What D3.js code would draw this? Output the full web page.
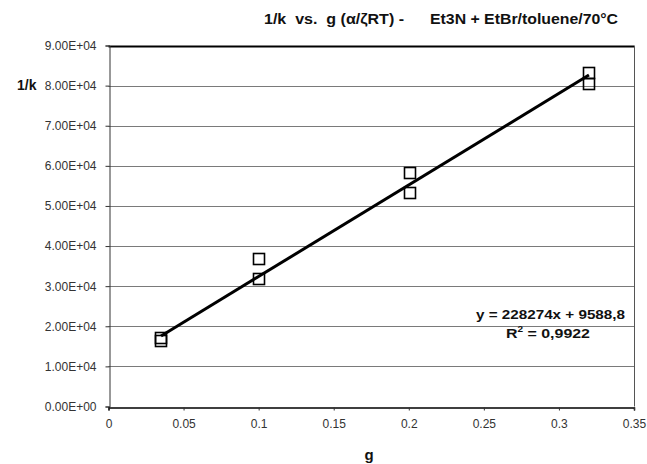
<!DOCTYPE html>
<html>
<head>
<meta charset="utf-8">
<script src="https://cdn.jsdelivr.net/npm/d3@7"></script>
<style>
  body { margin: 0; background: #fff; }
  text { font-family: "Liberation Sans", Arial, sans-serif; }
</style>
</head>
<body>
<script>
const width = 647;
const height = 464;

// data
const gValues = [0.035, 0.035, 0.1, 0.1, 0.201, 0.201, 0.32, 0.32];
const invK = [16300, 17100, 36800, 31700, 58300, 53300, 83200, 80500];
const slope = 228274;
const intercept = 9588.8;
const xTicks = [0, 0.05, 0.1, 0.15, 0.2, 0.25, 0.3, 0.35];
const yTicks = [0, 10000, 20000, 30000, 40000, 50000, 60000, 70000, 80000, 90000];

const margin = { top: 45.5, right: 13, bottom: 58, left: 108.5 };

const svg = d3.select("body")
    .append("svg")
    .attr("width", width)
    .attr("height", height);

const x = d3.scaleLinear().domain([0, 0.35]).range([margin.left, width - margin.right]);
const y = d3.scaleLinear().domain([0, 90000]).range([height - margin.bottom + 0.5, margin.top]);

// grid lines
svg.append("g")
    .selectAll("line")
    .data(yTicks.slice(1))
    .enter()
    .append("line")
    .attr("x1", x(0))
    .attr("x2", x(0.35))
    .attr("y1", d => Math.round(y(d)) + 0.5)
    .attr("y2", d => Math.round(y(d)) + 0.5)
    .attr("stroke", d => d === 90000 ? "#000" : "#7a7a7a")
    .attr("stroke-width", d => d === 90000 ? 2 : 1);

// right border
svg.append("line")
    .attr("x1", Math.round(x(0.35)) + 0.5)
    .attr("x2", Math.round(x(0.35)) + 0.5)
    .attr("y1", y(90000))
    .attr("y2", y(0))
    .attr("stroke", "#555")
    .attr("stroke-width", 1);

// y axis
const yAxis = d3.axisLeft(y)
    .tickValues(yTicks)
    .tickSize(4)
    .tickPadding(9)
    .tickFormat(d => d3.format(".2e")(d).replace("e+", "E+0").toUpperCase());

svg.append("g")
    .attr("transform", `translate(${Math.round(x(0)) + 0.5},0)`)
    .call(yAxis)
    .call(g => g.selectAll("text").attr("font-size", 12).attr("fill", "#333")
        .attr("font-family", "'Liberation Sans', Arial, sans-serif"))
    .call(g => g.select(".domain").attr("stroke", "#333"))
    .call(g => g.selectAll(".tick line").attr("stroke", "#333"));

// x axis
const xAxis = d3.axisBottom(x)
    .tickValues(xTicks)
    .tickSize(3)
    .tickPadding(9)
    .tickFormat(d => d === 0 ? "0" : String(d));

svg.append("g")
    .attr("transform", `translate(0,${Math.round(y(0)) + 0.5})`)
    .call(xAxis)
    .call(g => g.selectAll("text").attr("font-size", 12).attr("fill", "#333")
        .attr("font-family", "'Liberation Sans', Arial, sans-serif"))
    .call(g => g.select(".domain").attr("stroke", "#000").attr("stroke-width", 1.5))
    .call(g => g.selectAll(".tick line").attr("stroke", "#333"));

// trend line
const xMin = d3.min(gValues), xMax = d3.max(gValues);
svg.append("line")
    .attr("x1", x(xMin))
    .attr("y1", y(slope * xMin + intercept))
    .attr("x2", x(xMax))
    .attr("y2", y(slope * xMax + intercept))
    .attr("stroke", "#000")
    .attr("stroke-width", 3);

// points
const pts = gValues.map((g, i) => ({ g: g, v: invK[i] }));
svg.append("g")
    .selectAll("rect")
    .data(pts)
    .enter()
    .append("rect")
    .attr("x", d => Math.round(x(d.g)) - 5.5)
    .attr("y", d => Math.round(y(d.v)) - 5.5)
    .attr("width", 11)
    .attr("height", 11)
    .attr("fill", "none")
    .attr("stroke", "#000")
    .attr("stroke-width", 1.6);

// title (two parts, as in the original)
svg.append("text")
    .attr("x", 264)
    .attr("y", 24)
    .attr("font-size", 14)
    .attr("font-weight", "bold")
    .attr("fill", "#111")
    .attr("textLength", 140)
    .attr("lengthAdjust", "spacingAndGlyphs")
    .attr("xml:space", "preserve")
    .text("1/k  vs.  g (\u03b1/\u03b6RT) -");

svg.append("text")
    .attr("x", 430)
    .attr("y", 24)
    .attr("font-size", 14)
    .attr("font-weight", "bold")
    .attr("fill", "#111")
    .attr("textLength", 188)
    .attr("lengthAdjust", "spacingAndGlyphs")
    .text("Et3N + EtBr/toluene/70\u00b0C");

// axis titles
svg.append("text")
    .attr("x", 17)
    .attr("y", 90)
    .attr("font-size", 14)
    .attr("font-weight", "bold")
    .attr("fill", "#111")
    .text("1/k");

svg.append("text")
    .attr("x", 369)
    .attr("y", 460)
    .attr("text-anchor", "middle")
    .attr("font-size", 15)
    .attr("font-weight", "bold")
    .attr("font-family", "'Liberation Serif', 'Times New Roman', serif")
    .attr("fill", "#111")
    .text("g");

// equation
svg.append("text")
    .attr("x", 476)
    .attr("y", 319)
    .attr("font-size", 13.5)
    .attr("font-weight", "bold")
    .attr("fill", "#111")
    .attr("textLength", 149)
    .attr("lengthAdjust", "spacingAndGlyphs")
    .text("y = 228274x + 9588,8");

const r2 = svg.append("text")
    .attr("x", 506)
    .attr("y", 338)
    .attr("font-size", 13.5)
    .attr("font-weight", "bold")
    .attr("fill", "#111")
    .attr("textLength", 84)
    .attr("lengthAdjust", "spacingAndGlyphs");
r2.append("tspan").text("R");
r2.append("tspan").attr("dy", -6).attr("font-size", 8.5).text("2");
r2.append("tspan").attr("dy", 6).text(" = 0,9922");
</script>
</body>
</html>
